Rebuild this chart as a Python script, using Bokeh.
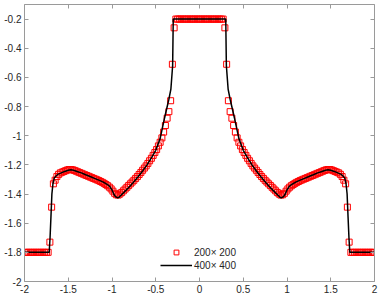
from bokeh.plotting import figure
from bokeh.models import Range1d, LinearAxis, FixedTicker, Legend, LegendItem
from bokeh.embed import file_html
from bokeh.resources import INLINE

# 200x200 solution: cell centres and values
x_200 = [round(-1.99 + 0.02 * i, 2) for i in range(200)]
y_200 = [
    -1.8, -1.8, -1.8, -1.8, -1.8, -1.8, -1.8, -1.8, -1.8, -1.8, -1.8, -1.8, -1.8, -1.8,
    -1.73, -1.49, -1.33, -1.305, -1.28, -1.265, -1.255, -1.25, -1.245, -1.24,
    -1.235, -1.232, -1.232, -1.234, -1.238, -1.243, -1.248, -1.253, -1.258, -1.263,
    -1.268, -1.273, -1.278, -1.283, -1.288, -1.293, -1.298, -1.303, -1.308, -1.314,
    -1.32, -1.327, -1.335, -1.343, -1.353, -1.365, -1.38, -1.395, -1.405, -1.407,
    -1.40, -1.39, -1.378, -1.366, -1.354, -1.342, -1.33, -1.318, -1.306, -1.293,
    -1.28, -1.266, -1.252, -1.237, -1.222, -1.207, -1.19, -1.172, -1.155, -1.135,
    -1.115, -1.095, -1.07, -1.045, -1.015, -0.975, -0.93, -0.88, -0.835, -0.76,
    -0.51, -0.26,
    -0.2, -0.2, -0.2, -0.2, -0.2, -0.2, -0.2, -0.2, -0.2, -0.2, -0.2, -0.2, -0.2, -0.2,
    -0.2, -0.2, -0.2, -0.2, -0.2, -0.2, -0.2, -0.2, -0.2, -0.2, -0.2, -0.2, -0.2, -0.2,
    -0.26, -0.51,
    -0.76, -0.835, -0.88, -0.93, -0.975, -1.015, -1.045, -1.07, -1.095, -1.115,
    -1.135, -1.155, -1.172, -1.19, -1.207, -1.222, -1.237, -1.252, -1.266, -1.28,
    -1.293, -1.306, -1.318, -1.33, -1.342, -1.354, -1.366, -1.378, -1.39, -1.40,
    -1.407, -1.405, -1.395, -1.38, -1.365, -1.353, -1.343, -1.335, -1.327, -1.32,
    -1.314, -1.308, -1.303, -1.298, -1.293, -1.288, -1.283, -1.278, -1.273, -1.268,
    -1.263, -1.258, -1.253, -1.248, -1.243, -1.238, -1.234, -1.232, -1.232, -1.235,
    -1.24, -1.245, -1.25, -1.255, -1.265, -1.28, -1.305, -1.33, -1.49, -1.73,
    -1.8, -1.8, -1.8, -1.8, -1.8, -1.8, -1.8, -1.8, -1.8, -1.8, -1.8, -1.8, -1.8, -1.8,
]

# 400x400 solution (read as a polyline)
x_400 = [
    -2.0, -1.718, -1.708, -1.698, -1.687, -1.675, -1.66, -1.62, -1.58, -1.54, -1.50,
    -1.47, -1.44, -1.40, -1.35, -1.30, -1.25, -1.20, -1.15, -1.10, -1.06, -1.03,
    -1.00, -0.98, -0.96, -0.935, -0.92, -0.90, -0.85, -0.80, -0.75, -0.70, -0.65,
    -0.60, -0.55, -0.50, -0.45, -0.40, -0.35, -0.327, -0.307, -0.30,
    0.30, 0.307, 0.327, 0.35, 0.40, 0.45, 0.50, 0.55, 0.60, 0.65, 0.70, 0.75, 0.80,
    0.85, 0.90, 0.92, 0.935, 0.96, 0.98, 1.00, 1.03, 1.06, 1.10, 1.15, 1.20, 1.25,
    1.30, 1.35, 1.40, 1.44, 1.47, 1.50, 1.54, 1.58, 1.62, 1.66, 1.675, 1.687, 1.698,
    1.708, 1.718, 2.0,
]
y_400 = [
    -1.8, -1.8, -1.70, -1.56, -1.40, -1.33, -1.29, -1.265, -1.255, -1.245, -1.237,
    -1.234, -1.237, -1.245, -1.255, -1.268, -1.28, -1.293, -1.305, -1.318, -1.332, -1.345,
    -1.372, -1.40, -1.418, -1.427, -1.422, -1.41, -1.38, -1.35, -1.316, -1.28, -1.242,
    -1.20, -1.152, -1.10, -1.02, -0.88, -0.75, -0.68, -0.52, -0.20,
    -0.20, -0.52, -0.68, -0.75, -0.88, -1.02, -1.10, -1.152, -1.20, -1.242, -1.28, -1.316, -1.35,
    -1.38, -1.41, -1.422, -1.427, -1.418, -1.40, -1.372, -1.345, -1.332, -1.318, -1.305, -1.293, -1.28,
    -1.268, -1.255, -1.245, -1.237, -1.234, -1.237, -1.245, -1.255, -1.265, -1.29, -1.33, -1.40, -1.56,
    -1.70, -1.8, -1.8,
]

series_labels = ["200\u00d7 200", "400\u00d7 400"]

x_ticks = [-2, -1.5, -1, -0.5, 0, 0.5, 1, 1.5, 2]
x_tick_labels = ["-2", "-1.5", "-1", "-0.5", "0", "0.5", "1", "1.5", "2"]
y_ticks = [-2, -1.8, -1.6, -1.4, -1.2, -1, -0.8, -0.6, -0.4, -0.2]
y_tick_labels = ["-2", "-1.8", "-1.6", "-1.4", "-1.2", "-1", "-0.8", "-0.6", "-0.4", "-0.2"]

FONT = "Liberation Sans"
AXIS_COLOR = "#9a9a9a"
TEXT_COLOR = "#262626"

p = figure(width=382, height=300, output_backend="svg", toolbar_location=None,
           x_range=Range1d(-2, 2), y_range=Range1d(-2, -0.1),
           min_border_left=24, min_border_right=8, min_border_top=4, min_border_bottom=19)
p.xgrid.visible = False
p.ygrid.visible = False
p.outline_line_color = None
p.background_fill_color = "white"
p.border_fill_color = "white"

def style_axis(ax, ticks, labels, show_labels):
    ax.ticker = FixedTicker(ticks=ticks)
    ax.axis_line_color = AXIS_COLOR
    ax.axis_line_width = 1
    ax.major_tick_line_color = AXIS_COLOR
    ax.major_tick_in = 4
    ax.major_tick_out = 0
    ax.minor_tick_line_color = None
    ax.major_label_text_font = FONT
    if show_labels:
        ax.major_label_overrides = {t: l for t, l in zip(ticks, labels)}
        ax.major_label_text_color = TEXT_COLOR
        ax.major_label_text_font_size = "10px"
        ax.major_label_standoff = 3
    else:
        ax.major_label_text_color = None
        ax.major_label_text_font_size = "0px"
        ax.major_label_standoff = 0

style_axis(p.xaxis[0], x_ticks, x_tick_labels, True)
style_axis(p.yaxis[0], y_ticks, y_tick_labels, True)

top_axis = LinearAxis()
style_axis(top_axis, x_ticks, x_tick_labels, False)
p.add_layout(top_axis, "above")
right_axis = LinearAxis()
style_axis(right_axis, y_ticks, y_tick_labels, False)
p.add_layout(right_axis, "right")

r_sq = p.scatter(x_200, y_200, marker="square", size=6, fill_color=None,
                 line_color="#ff0000", line_width=1)
r_ln = p.line(x_400, y_400, line_color="black", line_width=1.5)

legend = Legend(items=[LegendItem(label=series_labels[0], renderers=[r_sq]),
                       LegendItem(label=series_labels[1], renderers=[r_ln])],
                location=(136, 10), padding=0, margin=0, spacing=1,
                glyph_width=32, glyph_height=12, label_height=12, label_standoff=2,
                label_text_font=FONT, label_text_font_size="10px", label_text_color=TEXT_COLOR,
                border_line_color=None, background_fill_alpha=0)
p.add_layout(legend)

open("out.html", "w").write(file_html(p, INLINE))
